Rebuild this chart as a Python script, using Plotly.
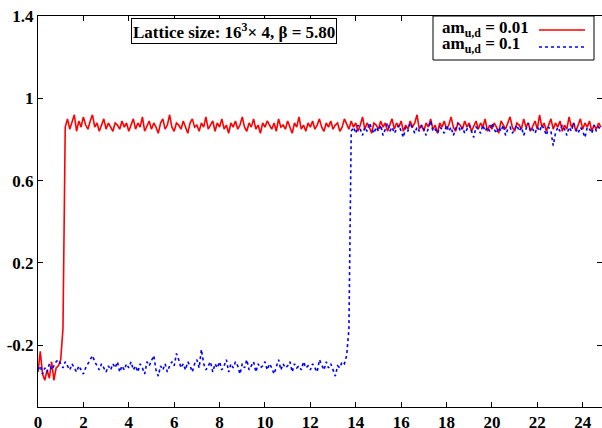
import numpy as np
import plotly.graph_objects as go

x_step = 0.1

red_low = [-0.33, -0.23, -0.34, -0.37, -0.32, -0.36, -0.28, -0.37, -0.31, -0.30, -0.27, -0.12]
red_high = [
    0.86, 0.90, 0.85, 0.88, 0.92, 0.84, 0.89, 0.86, 0.91, 0.87,
    0.85, 0.89, 0.92, 0.86, 0.88, 0.84, 0.87, 0.90, 0.85, 0.88,
    0.86, 0.84, 0.88, 0.87, 0.85, 0.89, 0.86, 0.88, 0.84, 0.87,
    0.90, 0.85, 0.88, 0.86, 0.91, 0.84, 0.87, 0.89, 0.85, 0.88,
    0.86, 0.83, 0.88, 0.90, 0.85, 0.87, 0.92, 0.86, 0.84, 0.88,
    0.87, 0.85, 0.89, 0.86, 0.83, 0.88, 0.90, 0.86, 0.87, 0.84,
    0.88, 0.86, 0.91, 0.85, 0.87, 0.89, 0.84, 0.88, 0.86, 0.90,
    0.85, 0.87, 0.83, 0.88, 0.86, 0.89, 0.85, 0.87, 0.91, 0.86,
    0.84, 0.88, 0.86, 0.90, 0.85, 0.87, 0.83, 0.88, 0.86, 0.89,
    0.87, 0.85, 0.88, 0.84, 0.90, 0.86, 0.87, 0.85, 0.89, 0.86,
    0.83, 0.88, 0.86, 0.91, 0.85, 0.87, 0.84, 0.88, 0.86, 0.89,
    0.85, 0.87, 0.90, 0.86, 0.84, 0.88, 0.86, 0.89, 0.85, 0.87,
    0.88, 0.84, 0.86, 0.90, 0.87, 0.85, 0.89, 0.86, 0.88, 0.84,
    0.87, 0.91, 0.85, 0.88, 0.86, 0.83, 0.88, 0.87, 0.85, 0.89,
    0.86, 0.88, 0.84, 0.87, 0.90, 0.85, 0.88, 0.86, 0.89, 0.84,
    0.87, 0.85, 0.89, 0.86, 0.88, 0.92, 0.85, 0.87, 0.84, 0.88,
    0.86, 0.90, 0.85, 0.87, 0.83, 0.88, 0.86, 0.89, 0.85, 0.87,
    0.91, 0.86, 0.84, 0.88, 0.87, 0.85, 0.89, 0.86, 0.88, 0.84,
    0.87, 0.89, 0.85, 0.88, 0.86, 0.90, 0.84, 0.87, 0.85, 0.88,
    0.86, 0.83, 0.89, 0.87, 0.85, 0.88, 0.91, 0.86, 0.84, 0.88,
    0.87, 0.85, 0.90, 0.86, 0.88, 0.84, 0.87, 0.89, 0.85, 0.92,
    0.86, 0.88, 0.84, 0.87, 0.90, 0.85, 0.88, 0.86, 0.89, 0.84,
    0.87, 0.85, 0.91, 0.86, 0.88, 0.84, 0.87, 0.90, 0.85, 0.88,
    0.86, 0.89, 0.84, 0.87, 0.85, 0.88, 0.86,
]

blue_low = [
    -0.32, -0.30, -0.34, -0.31, -0.33, -0.29, -0.32, -0.30, -0.28, -0.27,
    -0.29, -0.31, -0.28, -0.30, -0.32, -0.29, -0.31, -0.33, -0.30, -0.32,
    -0.34, -0.31, -0.29, -0.27, -0.25, -0.28, -0.30, -0.32, -0.29, -0.31,
    -0.33, -0.30, -0.32, -0.29, -0.31, -0.28, -0.33, -0.30, -0.32, -0.29,
    -0.31, -0.28, -0.32, -0.30, -0.33, -0.29, -0.31, -0.34, -0.28, -0.30,
    -0.27, -0.25, -0.32, -0.35, -0.30, -0.32, -0.29, -0.33, -0.30, -0.28,
    -0.30, -0.24, -0.27, -0.31, -0.29, -0.32, -0.28, -0.30, -0.33, -0.29,
    -0.27, -0.31, -0.22, -0.29, -0.32, -0.30, -0.28, -0.33, -0.29, -0.31,
    -0.28, -0.32, -0.30, -0.27, -0.33, -0.29, -0.31, -0.28, -0.30, -0.34,
    -0.29, -0.31, -0.27, -0.32, -0.30, -0.28, -0.33, -0.29, -0.31, -0.30,
    -0.28, -0.32, -0.29, -0.31, -0.34, -0.30, -0.27, -0.32, -0.29, -0.31,
    -0.30, -0.28, -0.33, -0.29, -0.31, -0.30, -0.32, -0.28, -0.31, -0.30,
    -0.32, -0.29, -0.31, -0.33, -0.27, -0.30, -0.32, -0.28, -0.31, -0.29,
    -0.32, -0.35, -0.30, -0.31, -0.28, -0.29, -0.25, -0.12,
]
blue_high = [
    0.84, 0.86, 0.83, 0.87, 0.85, 0.82, 0.86, 0.84, 0.88, 0.85,
    0.83, 0.86, 0.84, 0.87, 0.82, 0.85, 0.88, 0.84, 0.86, 0.83,
    0.85, 0.87, 0.84, 0.81, 0.86, 0.84, 0.88, 0.85, 0.83, 0.86,
    0.84, 0.87, 0.85, 0.82, 0.86, 0.89, 0.84, 0.85, 0.83, 0.86,
    0.85, 0.83, 0.87, 0.84, 0.86, 0.82, 0.85, 0.88, 0.84, 0.86,
    0.83, 0.85, 0.87, 0.84, 0.81, 0.86, 0.85, 0.83, 0.87, 0.84,
    0.86, 0.84, 0.88, 0.85, 0.83, 0.86, 0.84, 0.87, 0.82, 0.85,
    0.86, 0.83, 0.85, 0.87, 0.84, 0.86, 0.82, 0.85, 0.88, 0.84,
    0.85, 0.83, 0.86, 0.84, 0.87, 0.85, 0.82, 0.86, 0.84, 0.77,
    0.83, 0.86, 0.84, 0.87, 0.85, 0.82, 0.86, 0.84, 0.88, 0.85,
    0.83, 0.86, 0.84, 0.81, 0.86, 0.85, 0.83, 0.87, 0.84, 0.86, 0.85,
]

y_tick_vals = [-0.2, 0.2, 0.6, 1, 1.4]
y_tick_text = ["-0.2", "0.2", "0.6", "1", "1.4"]
x_tick_vals = list(range(0, 25, 2))

legend_labels = ["am<sub>u,d</sub> = 0.01", "am<sub>u,d</sub> = 0.1"]
title_text = "Lattice size: 16<sup>3</sup>\u00d7 4, \u03b2 = 5.80"

red_y = red_low + red_high
blue_y = blue_low + blue_high
red_x = np.round(np.arange(len(red_y)) * x_step, 2)
blue_x = np.round(np.arange(len(blue_y)) * x_step, 2)

FONT = "Liberation Serif"

fig = go.Figure()
fig.add_trace(go.Scatter(x=red_x, y=red_y, mode="lines",
                         line=dict(color="#ff0000", width=1.6), showlegend=False))
fig.add_trace(go.Scatter(x=blue_x, y=blue_y, mode="lines",
                         line=dict(color="#0000ff", width=1.6, dash="dot"), showlegend=False))

W, H = 602, 428
L, R, T, B = 38, 0, 16, 21
pw, ph = W - L - R, H - T - B

def px(xp):
    return (xp - L) / pw

def py(yp):
    return 1 - (yp - T) / ph

axis_common = dict(showline=True, linecolor="black", linewidth=1, mirror="allticks",
                   ticks="inside", ticklen=5, tickcolor="black", showgrid=False,
                   zeroline=False, automargin=False,
                   tickfont=dict(family=FONT, size=17, color="black", weight="bold"))

fig.update_layout(
    width=W, height=H,
    margin=dict(l=L, r=R, t=T, b=B, autoexpand=False),
    plot_bgcolor="white", paper_bgcolor="white",
    xaxis=dict(range=[0, 24.85], tickvals=x_tick_vals, ticklabelstandoff=0, **axis_common),
    yaxis=dict(range=[-0.5, 1.4], tickvals=y_tick_vals, ticktext=y_tick_text, **axis_common),
    showlegend=False,
)

# title box
fig.add_annotation(xref="paper", yref="paper", x=px(234), y=py(18), xanchor="center", yanchor="top",
                   text="<b>" + title_text + "</b>", showarrow=False,
                   font=dict(family=FONT, size=17, color="black"),
                   bordercolor="black", borderwidth=1, borderpad=1, bgcolor="white")

# legend box
fig.add_shape(type="rect", xref="paper", yref="paper", x0=px(433), x1=px(594), y0=py(60), y1=py(16),
              line=dict(color="black", width=1), fillcolor="white", layer="above")
fig.add_annotation(xref="paper", yref="paper", x=px(440), y=py(29), xanchor="left", yanchor="middle",
                   text="<b>" + legend_labels[0] + "</b>", showarrow=False,
                   font=dict(family=FONT, size=17, color="black"))
fig.add_annotation(xref="paper", yref="paper", x=px(440), y=py(45), xanchor="left", yanchor="middle",
                   text="<b>" + legend_labels[1] + "</b>", showarrow=False,
                   font=dict(family=FONT, size=17, color="black"))
fig.add_shape(type="line", xref="paper", yref="paper", x0=px(539), x1=px(585), y0=py(30), y1=py(30),
              line=dict(color="#ff0000", width=1.5), layer="above")
fig.add_shape(type="line", xref="paper", yref="paper", x0=px(539), x1=px(585), y0=py(47), y1=py(47),
              line=dict(color="#0000ff", width=1.5, dash="dot"), layer="above")

fig.write_html("out.html", config={"displayModeBar": False},
               post_script="document.body.style.margin='0px';")
